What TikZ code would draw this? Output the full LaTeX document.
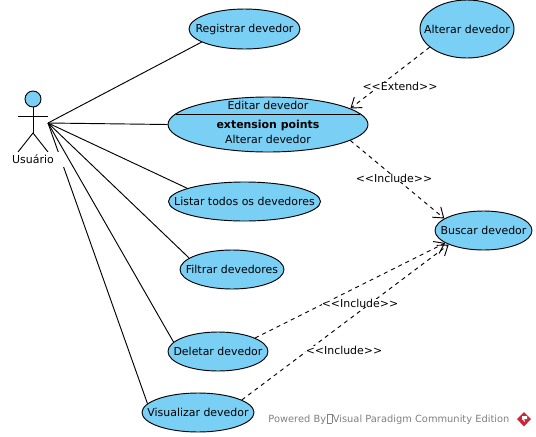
\documentclass[tikz,border=0pt]{standalone}
\usepackage{fontspec}
\setmainfont{DejaVu Sans}
\usetikzlibrary{shapes.geometric,arrows.meta}

\definecolor{casefill}{HTML}{7ACFF5}
\definecolor{markgray}{HTML}{808080}
\definecolor{markred}{HTML}{C8283C}

\tikzset{
  usecase/.style 2 args={ellipse, draw=black, fill=casefill, inner sep=0pt,
    minimum width=#1*0.75pt, minimum height=#2*0.75pt},
  assoc/.style={draw=black},
  depend/.style={draw=black, dashed, dash pattern=on 3pt off 3pt,
    -{Straight Barb[length=7pt,width=10pt]}},
  lbl/.style={inner sep=0pt},
}

% Stereotype text, kept apart so that the brackets stay two characters
\newcommand{\stereo}[1]{<{}<#1>{}>}

\begin{document}
\begin{tikzpicture}[x=0.75pt, y=-0.75pt, line width=0.7pt,
    every node/.append style={font=\fontsize{8.2}{10}\selectfont}]

% Page size of the reference
\useasboundingbox (0,0) rectangle (536,436);

% Use cases (zero width text, so that the ellipse keeps its given size)
\node[usecase={111}{40}] (registrar) at (244.5,29) {\clap{Registrar devedor}};
\node[usecase={94}{58}] (alterar) at (467,29) {\clap{Alterar devedor}};
\node[usecase={200}{55}] (editar) at (268,124.5) {};
\node[usecase={152}{39}] (listar) at (244.5,201.5) {\clap{Listar todos os devedores}};
\node[usecase={104}{39}] (filtrar) at (232,269.5) {\clap{Filtrar devedores}};
\node[usecase={100}{39}] (deletar) at (218,351.5) {\clap{Deletar devedor}};
\node[usecase={112}{39}] (visualizar) at (198,412.5) {\clap{Visualizar devedor}};
\node[usecase={97}{39}] (buscar) at (483.5,230.5) {\clap{Buscar devedor}};

% Compartments of the extended use case
\coordinate (sepL) at (175.6,114);
\coordinate (sepR) at (360.4,114);
\draw (sepL) -- (sepR);
\node[lbl] (editarTitle) at (268,105) {Editar devedor};
\node[lbl, font=\fontsize{8.2}{10}\selectfont\bfseries] (editarPoints) at (268,125) {extension points};
\node[lbl] (editarPoint) at (268,139) {Alterar devedor};

% Actor
\coordinate (hand) at (48,123);
\coordinate (armL) at (18,116);
\coordinate (armR) at (48,116);
\coordinate (hip) at (33,133);
\coordinate (footL) at (18,152);
\coordinate (footR) at (48,152);
\node[circle, draw=black, fill=casefill, inner sep=0pt, minimum size=12pt] (head) at (33,99) {};
\draw (head) -- (hip);
\draw (armL) -- (armR);
\draw (footL) -- (hip) -- (footR);

% Associations
\foreach \n/\a in {registrar/197.5,editar/180,listar/167.6,filtrar/165,deletar/168,visualizar/170}
  \draw[assoc] (hand) -- (\n.\a);

% White box of the actor name hides a piece of the last association
\node[fill=white, inner sep=0pt, minimum width=46.5pt, minimum height=11.2pt] (usuario) at (33,159.5) {Usuário};

% Dependencies
\draw[depend] (alterar.206) -- (editar.11);
\draw[depend] (editar.-11) -- (buscar.163);
\draw[depend] (deletar.20) -- (buscar.198);
\draw[depend] (visualizar.16) -- (buscar.202);

% Dependency labels
\node[lbl, fill=white] (extendLbl) at (400,86) {\stereo{Extend}};
\node[lbl, fill=white] (includeA) at (394,178) {\stereo{Include}};
\node[lbl, fill=white] (includeB) at (360,303) {\stereo{Include}};
\node[lbl, fill=white] (includeC) at (344,350) {\stereo{Include}};

% Watermark
\node[lbl, text=markgray, anchor=west, font=\fontsize{7.4}{9}\selectfont] (powered) at (268,419) {Powered By\kern0.5pt\raisebox{-0.5pt}{\fboxsep=0pt\fboxrule=0.3pt\framebox[4pt]{\rule{0pt}{6.5pt}}}\kern0.5pt Visual Paradigm Community Edition};
\fill[markred] (524,412) -- (531,419) -- (524,426.5) -- (517,419) -- cycle;
\fill[white] (522,416) -- (527,416) -- (527,419) -- (524,419) -- (525,422) -- (522,419) -- cycle;

\end{tikzpicture}
\end{document}
